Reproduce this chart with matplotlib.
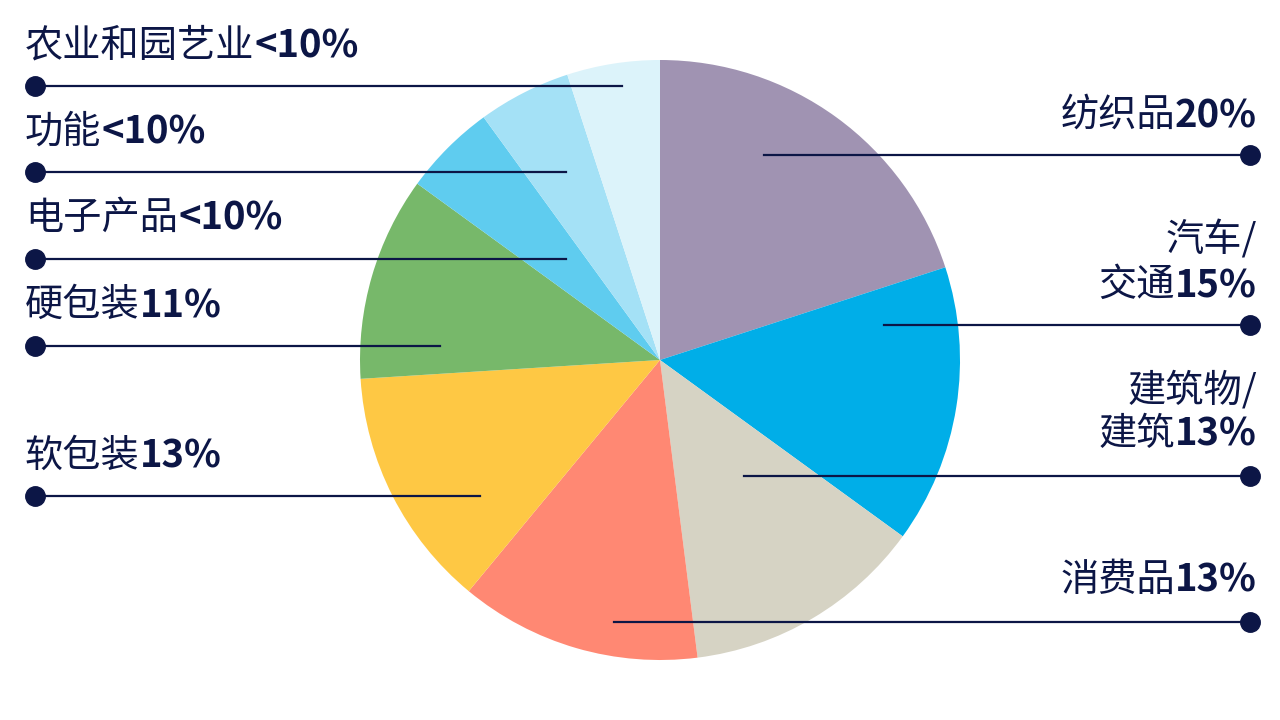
import matplotlib
matplotlib.use("Agg")
import matplotlib.pyplot as plt

plt.rcParams['font.family'] = ['Noto Sans CJK SC', 'DejaVu Sans']

# slices, clockwise from 12 o'clock
names = ["纺织品", "汽车/\n交通", "建筑物/\n建筑", "消费品", "软包装", "硬包装",
         "电子产品", "功能", "农业和园艺业"]
shares = [20, 15, 13, 13, 13, 11, 5, 5, 5]
pct_labels = ["20%", "15%", "13%", "13%", "13%", "11%", "<10%", "<10%", "<10%"]
colors = ["#A093B2", "#00AEE8", "#D6D3C4", "#FF8873", "#FEC844", "#77B86A",
          "#5FCCEF", "#A4E1F6", "#DCF3FA"]

NAVY = "#0C1646"
H = 720

# label layout in pixels: (side, text baseline y, line y, inner x)
layout = [
    ("R", 127, 155, 764),
    ("R", 297, 325, 884),
    ("R", 446, 476, 744),
    ("R", 592, 622, 614),
    ("L", 467, 496, 480),
    ("L", 316, 346, 440),
    ("L", 229, 259, 566),
    ("L", 143, 172, 566),
    ("L", 57, 86, 622),
]

fig = plt.figure(figsize=(12.8, 7.2), dpi=100)
ax = fig.add_axes([0, 0, 1, 1])
ax.pie(shares, colors=colors, startangle=90, counterclock=False,
       center=(660, H - 360), radius=300, wedgeprops=dict(linewidth=0))
ax.set_xlim(0, 1280)
ax.set_ylim(0, H)
ax.set_aspect("equal")
ax.axis("off")

fs = 27.5
for name, pct, (side, ty, ly, ix) in zip(names, pct_labels, layout):
    if side == "L":
        ax.plot([35, ix], [H - ly, H - ly], color=NAVY, lw=1.6)
        ax.plot([35], [H - ly], "o", color=NAVY, ms=14)
        t = ax.text(25, H - ty, name, fontsize=fs, fontweight="light",
                    color=NAVY, ha="left", va="baseline")
        ax.annotate(pct, xy=(1, 0), xycoords=t, fontsize=fs, fontweight="bold",
                    color=NAVY, ha="left", va="bottom")
    else:
        ax.plot([ix, 1250], [H - ly, H - ly], color=NAVY, lw=1.6)
        ax.plot([1250], [H - ly], "o", color=NAVY, ms=14)
        lines = name.split("\n")
        p = ax.text(1257, H - ty, pct, fontsize=fs, fontweight="bold",
                    color=NAVY, ha="right", va="baseline")
        ax.annotate(lines[-1], xy=(0, 0), xycoords=p, fontsize=fs,
                    fontweight="light", color=NAVY, ha="right", va="bottom")
        if len(lines) > 1:
            ax.text(1257, H - ty + 45, lines[0], fontsize=fs, fontweight="light",
                    color=NAVY, ha="right", va="baseline")

fig.savefig("out.png", dpi=100)
